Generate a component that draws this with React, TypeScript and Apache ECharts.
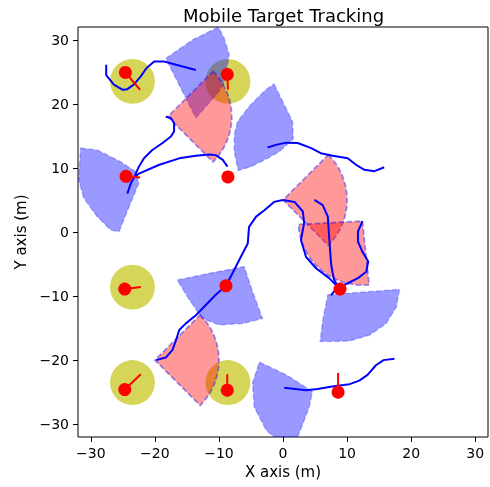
import React, { useEffect, useRef } from "react";
import * as echarts from "echarts";

const xTicks = [-30, -20, -10, 0, 10, 20, 30];
const yTicks = [-30, -20, -10, 0, 10, 20, 30];

// sensor footprints (yellow discs): centre x, y
const sensorDiscs: number[][] = [
  [-23.5, 23.5],
  [-8.6, 23.5],
  [-23.5, -8.6],
  [-23.5, -23.5],
  [-8.6, -23.5],
];
const discRadius = 3.5;

// robots (red dots)
const robots: number[][] = [
  [-24.6, 24.9],
  [-8.7, 24.6],
  [-24.5, 8.7],
  [-8.6, 8.6],
  [8.9, -8.9],
  [-24.7, -8.9],
  [-8.9, -8.4],
  [-24.7, -24.6],
  [-8.7, -24.7],
  [8.6, -25.0],
];

// robot heading segments: x0, y0, x1, y1
const headings: number[][] = [
  [-24.6, 24.9, -22.3, 22.2],
  [-8.7, 24.6, -8.6, 22.2],
  [-24.5, 8.7, -22.3, 8.5],
  [-24.7, -8.9, -22.2, -8.6],
  [-24.7, -24.6, -22.2, -22.2],
  [-8.7, -24.7, -8.7, -22.2],
  [8.6, -25.0, 8.6, -22.0],
];

// target uncertainty sectors (pink): apex x, apex y, radius, angle from, angle to (deg)
const targetSectors: number[][] = [
  [-18, 18, 10, -45, 45],
  [0, 5, 10, -45, 45],
  [12.4, 1.7, 10, 183, 276],
  [-20, -20, 10, -45, 45],
];

// sensing regions (blue), outlines
const senseA: number[][] = [[-18.3, 27.1], [-14.1, 30.0], [-10.7, 31.7], [-10.1, 32.0], [-9.2, 30.3], [-8.4, 27.7], [-9.2, 23.2], [-10.2, 21.7], [-13.6, 17.8]];
const senseB: number[][] = [[-1.4, 23.1], [-0.06, 20.4], [1.5, 17.2], [1.6, 14.5], [-0.5, 12.6], [-2.4, 11.5], [-5.0, 10.2], [-7.0, 9.6], [-7.6, 12.5], [-7.6, 15.2], [-7.1, 17.2], [-5.3, 19.6], [-2.7, 22.2]];
const senseC: number[][] = [[-31.6, 13.1], [-29.0, 12.8], [-25.4, 11.0], [-23.0, 9.4], [-22.5, 7.6], [-23.8, 4.5], [-25.6, 0.05], [-26.9, 0.3], [-29.0, 2.4], [-31.1, 5.3], [-31.9, 8.1]];
const senseD: number[][] = [[7.0, -9.8], [18.2, -8.95], [17.7, -11.7], [16.1, -14.3], [13.5, -16.1], [10.4, -17.0], [7.75, -17.1], [5.8, -17.1], [6.2, -13.75]];
const senseE: number[][] = [[-16.5, -7.5], [-11.5, -6.45], [-6.05, -5.4], [-4.75, -9.3], [-3.2, -13.5], [-6.3, -14.3], [-9.95, -14.5], [-12.6, -13.5], [-14.6, -10.6]];
const senseF: number[][] = [[-3.7, -20.3], [0.5, -22.3], [4.6, -24.9], [4.1, -27.3], [2.5, -31.5], [2.3, -32], [-1.4, -32], [-2.65, -30.9], [-4.5, -27.3], [-4.75, -23.6]];
const senseRegions = [senseA, senseB, senseC, senseD, senseE, senseF];

// target trajectories
const track1: number[][] = [[-27.6, 26.1], [-27.6, 24.5], [-26.4, 23], [-25, 22.2], [-24.3, 22.3], [-23.3, 23], [-22.2, 24.3], [-21.3, 25.6], [-20.1, 26.6], [-18.5, 26.6], [-16.7, 26.1], [-13.6, 25.3]];
const track2: number[][] = [[-18.3, 18], [-17.5, 17.8], [-17, 17], [-17, 15.7], [-17.5, 14.9], [-18.8, 13.9], [-20.4, 12.8], [-21.7, 11.5], [-22.5, 10.2], [-23.2, 8.6], [-23.75, 7.6], [-24.3, 6.0]];
const track3: number[][] = [[-8.66, 10.2], [-9.4, 11.25], [-10.5, 12.0], [-11.5, 12.1], [-13.6, 11.9], [-16.2, 11.5], [-19.3, 10.5], [-22.5, 9.1], [-23.2, 8.6]];
const track4: number[][] = [[-2.4, 13.2], [-1.1, 13.6], [0.5, 13.95], [2.3, 13.9], [4.4, 13.1], [5.9, 12.3], [7.75, 11.9], [10.1, 11.5], [11.4, 10.5], [12.7, 9.7], [14.3, 9.5], [15.8, 10.1]];
const track5: number[][] = [[0, 5], [1.8, 4.7], [3.1, 3.2], [3.3, 1.4], [2.8, -1.25], [3.6, -3.9], [5.2, -5.7], [7.2, -7.2], [8.3, -8.3]];
const track6: number[][] = [[0, 5], [-1.4, 4.7], [-2.9, 3.4], [-4.2, 2.4], [-5.3, 0.8], [-5.5, -1.8], [-6.6, -3.9], [-7.6, -5.9], [-8.9, -8.4], [-10.5, -9.8], [-13.6, -13], [-15.2, -14.3], [-16.2, -15.3], [-16.7, -16.9], [-17.25, -18.4], [-18.3, -19.6], [-19.8, -20]];
const track7: number[][] = [[12.4, 1.7], [11.7, 0.05], [11.7, -1.5], [12.4, -3.1], [13.3, -4.6], [13, -6.2], [11.7, -7.2], [10.1, -8], [9.1, -8.5]];
const track8: number[][] = [[4.9, 5.0], [6.2, 4.2], [7, 2.4], [7.2, -0.7], [7.5, -4.9], [7.75, -6.45], [8.0, -7.5], [8.5, -8.3]];
const track9: number[][] = [[0.2, -24.3], [3.6, -24.7], [5.4, -24.5], [7.2, -24.2], [8.5, -24.0], [10.4, -23.75], [11.9, -23.2], [13.2, -22.3], [14.5, -20.8], [15.7, -20], [17.4, -19.8]];
const track10: number[][] = [[7.5, -9.9], [8.4, -8.7]];
const tracks = [track1, track2, track3, track4, track5, track6, track7, track8, track9, track10];

const FONT = "DejaVu Sans";
const minus = (v: number) => String(v).replace("-", "\u2212");

export default function App() {
  const ref = useRef<HTMLDivElement>(null);
  useEffect(() => {
    if (!ref.current) return;
    const chart = echarts.init(ref.current, null, { renderer: "svg" });
    const series: any[] = [];

    series.push({
      type: "custom",
      z: 2,
      clip: true,
      data: sensorDiscs,
      renderItem: (params: any, api: any) => {
        const d = sensorDiscs[params.dataIndex];
        const c = api.coord(d);
        const r = api.size([discRadius, 0])[0];
        return { type: "circle", shape: { cx: c[0], cy: c[1], r }, style: { fill: "rgba(191,191,0,0.65)" } };
      },
    });

    series.push({
      type: "custom",
      z: 3,
      clip: true,
      data: senseRegions.map((p) => p[0]),
      renderItem: (params: any, api: any) => {
        const poly = senseRegions[params.dataIndex];
        const pts = poly.map((p) => api.coord(p));
        return {
          type: "polygon",
          shape: { points: pts },
          style: { fill: "rgba(0,0,255,0.4)", stroke: "rgba(0,0,255,0.25)", lineWidth: 1.5, lineDash: [5.5, 2.5] },
        };
      },
    });

    series.push({
      type: "custom",
      z: 4,
      clip: true,
      data: targetSectors.map((s) => [s[0], s[1]]),
      renderItem: (params: any, api: any) => {
        const s = targetSectors[params.dataIndex];
        const c = api.coord([s[0], s[1]]);
        const r = api.size([s[2], 0])[0];
        const a1 = (-s[4] * Math.PI) / 180;
        const a2 = (-s[3] * Math.PI) / 180;
        return {
          type: "sector",
          shape: { cx: c[0], cy: c[1], r, r0: 0, startAngle: a1, endAngle: a2, clockwise: true },
          style: { fill: "rgba(255,0,0,0.4)", stroke: "rgba(0,0,255,0.4)", lineWidth: 1.8, lineDash: [5.5, 2.5] },
        };
      },
    });

    tracks.forEach((t) => {
      series.push({
        type: "line",
        z: 5,
        data: t,
        symbol: "none",
        showSymbol: false,
        lineStyle: { color: "#0000ff", width: 2 },
      });
    });

    series.push({
      type: "custom",
      z: 6,
      data: headings.map((h) => [h[0], h[1]]),
      renderItem: (params: any, api: any) => {
        const h = headings[params.dataIndex];
        const a = api.coord([h[0], h[1]]);
        const b = api.coord([h[2], h[3]]);
        return { type: "line", shape: { x1: a[0], y1: a[1], x2: b[0], y2: b[1] }, style: { stroke: "#ff0000", lineWidth: 2 } };
      },
    });

    series.push({
      type: "scatter",
      z: 7,
      data: robots,
      symbol: "circle",
      symbolSize: 13,
      itemStyle: { color: "#ff0000", opacity: 1 },
    });

    chart.setOption({
      animation: false,
      title: {
        text: "Mobile Target Tracking",
        left: 178,
        top: 1,
        textStyle: { fontFamily: FONT, fontSize: 18, fontWeight: "normal", color: "#000" },
      },
      grid: { left: 78, top: 27, width: 410, height: 410, show: true, borderColor: "#000", borderWidth: 1, backgroundColor: "transparent" },
      xAxis: {
        type: "value",
        min: -32,
        max: 32,
        name: "X axis (m)",
        nameLocation: "middle",
        nameGap: 27,
        nameTextStyle: { fontFamily: FONT, fontSize: 15, color: "#000" },
        axisLine: { show: false, onZero: false },
        splitLine: { show: false },
        axisTick: { show: true, inside: false, length: 5, customValues: xTicks, lineStyle: { color: "#000" } },
        axisLabel: { customValues: xTicks, margin: 9, fontFamily: FONT, fontSize: 14, color: "#000", formatter: minus },
      },
      yAxis: {
        type: "value",
        min: -32,
        max: 32,
        name: "Y axis (m)",
        nameLocation: "middle",
        nameGap: 46,
        nameTextStyle: { fontFamily: FONT, fontSize: 15, color: "#000" },
        axisLine: { show: false, onZero: false },
        splitLine: { show: false },
        axisTick: { show: true, inside: false, length: 5, customValues: yTicks, lineStyle: { color: "#000" } },
        axisLabel: { customValues: yTicks, margin: 9, fontFamily: FONT, fontSize: 14, color: "#000", formatter: minus },
      },
      series,
    });
    return () => chart.dispose();
  }, []);
  return <div ref={ref} style={{ position: "fixed", left: 0, top: 0, width: 490, height: 487 }} />;
}
